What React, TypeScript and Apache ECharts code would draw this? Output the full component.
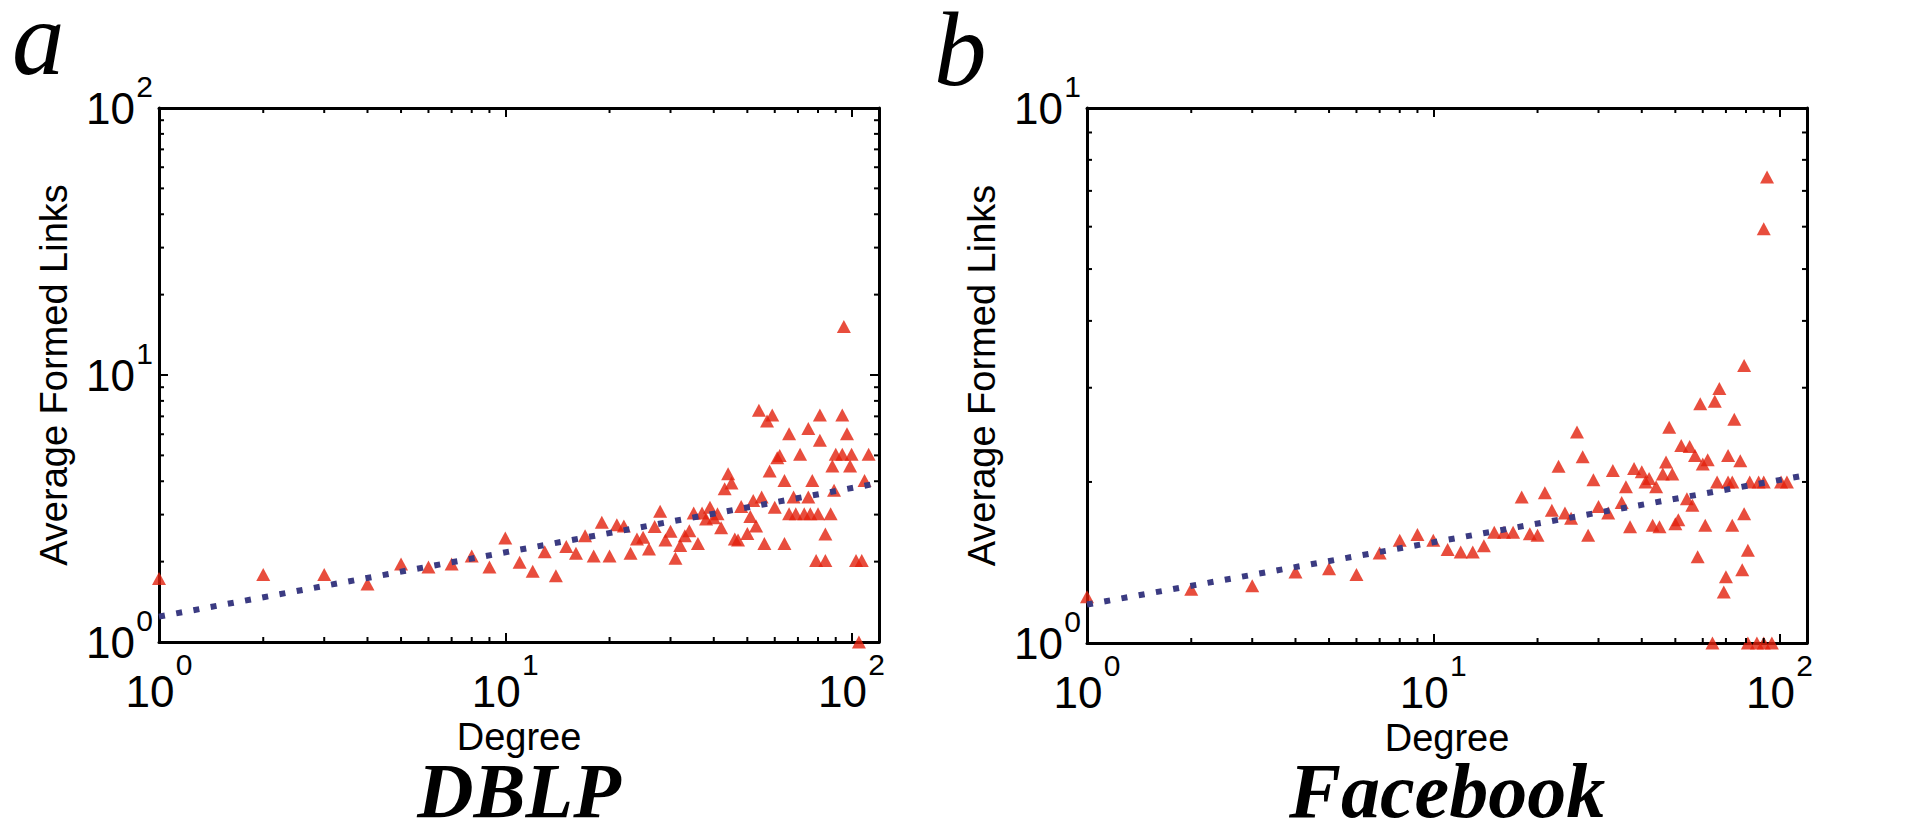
import React, { useEffect, useRef } from "react";
import * as echarts from "echarts";

// ---------- DATA ----------
const dblpDegree = [1, 2, 3, 4, 5, 6, 7, 8, 9, 10, 11, 12, 13, 14, 15, 16, 17, 18, 19, 20, 21, 22, 23, 24, 25, 26, 27, 28, 29, 30, 31, 32, 33, 34, 35, 36, 37, 38, 39, 40, 41, 42, 43, 44, 45, 46, 47, 48, 50, 51, 52, 53, 54, 55, 56, 57, 58, 59, 60, 61, 62, 64, 64, 66, 66, 69, 68, 73, 71, 75, 75, 76, 77, 80, 81, 81, 79, 84, 84, 87, 88, 89, 90, 94, 94, 95, 97, 99, 100, 103, 105, 107, 109, 112];
const dblpLinks = [1.73, 1.79, 1.79, 1.65, 1.96, 1.91, 1.96, 2.1, 1.91, 2.45, 1.99, 1.84, 2.18, 1.77, 2.28, 2.15, 2.5, 2.1, 2.81, 2.1, 2.75, 2.72, 2.15, 2.43, 2.47, 2.23, 2.71, 3.09, 2.41, 2.6, 2.06, 2.3, 2.5, 2.61, 3.04, 2.34, 3.04, 2.89, 3.2, 2.92, 3.02, 2.68, 3.75, 4.27, 3.94, 2.43, 2.41, 3.22, 2.55, 2.95, 3.39, 2.72, 7.38, 3.49, 2.34, 6.73, 4.37, 7.08, 3.2, 4.9, 5.0, 4.03, 2.34, 6.03, 3.02, 3.02, 3.49, 3.02, 5.05, 3.49, 6.3, 3.02, 4.03, 3.02, 7.08, 5.7, 2.02, 2.02, 2.54, 3.02, 4.56, 3.7, 5.05, 5.05, 7.08, 15.2, 6.03, 4.56, 5.05, 2.02, 1.0, 2.02, 4.03, 5.05];

const fbDegree = [1, 2, 3, 4, 5, 6, 7, 8, 9, 10, 11, 12, 13, 14, 15, 16, 17, 18, 19, 20, 21, 22, 23, 24, 25, 26, 27, 28, 29, 30, 32, 33, 35, 36, 37, 38, 40, 41, 42, 43, 44, 45, 46, 47, 48, 49, 50, 51, 52, 54, 55, 56, 57, 58, 59, 60, 61, 62, 64, 65, 66, 67, 69, 70, 71, 71, 73, 73, 74, 77, 78, 79, 79, 81, 81, 82, 86, 87, 90, 90, 90, 92, 95, 101, 105];
const fbLinks = [1.22, 1.26, 1.28, 1.357, 1.377, 1.343, 1.473, 1.556, 1.595, 1.556, 1.495, 1.479, 1.48, 1.52, 1.61, 1.61, 1.61, 1.875, 1.6, 1.59, 1.91, 1.77, 2.14, 1.75, 1.71, 2.48, 2.23, 1.59, 2.02, 1.8, 1.75, 2.1, 1.83, 1.96, 1.65, 2.12, 2.09, 2.0, 2.03, 1.66, 1.96, 1.65, 2.07, 2.18, 2.53, 2.07, 1.67, 1.7, 2.34, 1.86, 2.33, 1.81, 2.24, 1.45, 2.8, 2.16, 1.66, 2.2, 1.0, 2.83, 2.0, 2.99, 1.245, 1.33, 2.0, 2.24, 2.0, 1.66, 2.62, 2.19, 1.37, 3.3, 1.745, 1.49, 1.0, 2.0, 1.0, 2.0, 5.95, 2.0, 1.0, 7.43, 1.0, 2.0, 2.0];

const dblpFitDegree = [1, 120];
const dblpFitLinks = [1.245, 3.94];
const fbFitDegree = [1, 120];
const fbFitLinks = [1.18, 2.06];

const xAxisMin = 1;
const xAxisMax = 120;
const dblpYMax = 100;
const fbYMax = 10;
const minorMultipliers = [2, 3, 4, 5, 6, 7, 8, 9];
const xDecades = [1, 10];
const dblpYDecades = [1, 10];
const fbYDecades = [1];

const panelLetters = ["a", "b"];
const panelTitles = ["DBLP", "Facebook"];
const xAxisName = "Degree";
const yAxisName = "Average Formed Links";

// ---------- helpers ----------
const SANS = "'Liberation Sans', Arial, sans-serif";
const SERIF = "'Liberation Serif', 'Times New Roman', serif";

const minorValues = (decades: number[], max: number) => {
  const out: number[] = [];
  decades.forEach((d) => minorMultipliers.forEach((m) => { if (d * m < max) out.push(d * m); }));
  return out;
};

const zip = (a: number[], b: number[]) => a.map((v, i) => [v, b[i]]);

// superscript on its own (short) line above, both lines of equal width
const powLabel = (v: number) => {
  const l = Math.log10(v);
  const e = Math.round(l);
  if (Math.abs(l - e) > 1e-6) return "";
  return `{s|${e}}\n{b|10}`;
};

const yLabelRich = {
  b: { fontSize: 44, fontFamily: SANS, color: "#000", lineHeight: 44, padding: [0, 18, 10, 0] },
  s: { fontSize: 30, fontFamily: SANS, color: "#000", lineHeight: 10, padding: [0, 0, 0, 50] },
};
const xLabelRich = {
  b: { fontSize: 44, fontFamily: SANS, color: "#000", lineHeight: 44, padding: [0, 18, 0, 0] },
  s: { fontSize: 30, fontFamily: SANS, color: "#000", lineHeight: 10, padding: [0, 0, 0, 50] },
};

const mkX = (grid: number, bottom: boolean) => ({
  type: "log",
  gridIndex: grid,
  position: bottom ? "bottom" : "top",
  min: xAxisMin,
  max: xAxisMax,
  logBase: 10,
  axisLine: { show: true, onZero: false, lineStyle: { color: "#000", width: 3 } },
  axisTick: { show: true, inside: true, length: 9, lineStyle: { color: "#000", width: 2 } },
  splitLine: { show: false },
  axisLabel: bottom
    ? { show: true, formatter: powLabel, margin: 17, showMaxLabel: false, rich: xLabelRich }
    : { show: false },
  name: bottom ? xAxisName : "",
  nameLocation: "middle",
  nameGap: 42,
  nameTextStyle: { fontSize: 38, fontFamily: SANS, color: "#000", lineHeight: 38 },
});

const mkY = (grid: number, left: boolean, max: number) => ({
  type: "log",
  gridIndex: grid,
  position: left ? "left" : "right",
  min: 1,
  max,
  logBase: 10,
  axisLine: { show: true, onZero: false, lineStyle: { color: "#000", width: 3 } },
  axisTick: { show: true, inside: true, length: 9, lineStyle: { color: "#000", width: 2 } },
  splitLine: { show: false },
  axisLabel: left ? { show: true, formatter: powLabel, margin: 6, rich: yLabelRich } : { show: false },
  name: left ? yAxisName : "",
  nameLocation: "middle",
  nameGap: 86,
  nameTextStyle: { fontSize: 38, fontFamily: SANS, color: "#000", lineHeight: 38 },
});

const tickSeries = (dim: "x" | "y", values: number[], axisIdx: number) => ({
  type: "custom",
  xAxisIndex: axisIdx,
  yAxisIndex: axisIdx,
  clip: false,
  silent: true,
  z: 6,
  data: values.map((v) => (dim === "x" ? [v, 1] : [1, v])),
  renderItem: (params: any, api: any) => {
    const cs = params.coordSys;
    const pt = api.coord([api.value(0), api.value(1)]);
    const st = { stroke: "#000", lineWidth: 2 };
    const len = 5;
    if (dim === "x") {
      const x = pt[0];
      return {
        type: "group",
        children: [
          { type: "line", shape: { x1: x, y1: cs.y + cs.height, x2: x, y2: cs.y + cs.height - len }, style: st },
          { type: "line", shape: { x1: x, y1: cs.y, x2: x, y2: cs.y + len }, style: st },
        ],
      };
    }
    const y = pt[1];
    return {
      type: "group",
      children: [
        { type: "line", shape: { x1: cs.x, y1: y, x2: cs.x + len, y2: y }, style: st },
        { type: "line", shape: { x1: cs.x + cs.width, y1: y, x2: cs.x + cs.width - len, y2: y }, style: st },
      ],
    };
  },
});

const scatterSeries = (xs: number[], ys: number[], idx: number) => ({
  type: "scatter",
  xAxisIndex: idx,
  yAxisIndex: idx,
  data: zip(xs, ys),
  symbol: "triangle",
  symbolSize: [14, 13],
  clip: false,
  itemStyle: { color: "#e2200c" },
  z: 3,
});

const fitSeries = (xs: number[], ys: number[], idx: number) => ({
  type: "line",
  xAxisIndex: idx,
  yAxisIndex: idx,
  data: zip(xs, ys),
  symbol: "none",
  lineStyle: { color: "#3b3b82", width: 6, type: [6, 11.5], cap: "butt" },
  z: 4,
});

export default function App() {
  const ref = useRef<HTMLDivElement>(null);
  useEffect(() => {
    if (!ref.current) return;
    const chart = echarts.init(ref.current, null, { renderer: "svg" });
    const option: any = {
      animation: false,
      backgroundColor: "#fff",
      grid: [
        { left: 159, top: 108, width: 720, height: 534 },
        { left: 1087, top: 108, width: 720, height: 535 },
      ],
      xAxis: [mkX(0, true), mkX(0, false), mkX(1, true), mkX(1, false)],
      yAxis: [mkY(0, true, dblpYMax), mkY(0, false, dblpYMax), mkY(1, true, fbYMax), mkY(1, false, fbYMax)],
      series: [
        scatterSeries(dblpDegree, dblpLinks, 0),
        fitSeries(dblpFitDegree, dblpFitLinks, 0),
        scatterSeries(fbDegree, fbLinks, 2),
        fitSeries(fbFitDegree, fbFitLinks, 2),
        tickSeries("x", minorValues(xDecades, xAxisMax), 0),
        tickSeries("y", minorValues(dblpYDecades, dblpYMax), 0),
        tickSeries("x", minorValues(xDecades, xAxisMax), 2),
        tickSeries("y", minorValues(fbYDecades, fbYMax), 2),
        { type: "line", xAxisIndex: 1, yAxisIndex: 1, data: [], symbol: "none" },
        { type: "line", xAxisIndex: 3, yAxisIndex: 3, data: [], symbol: "none" },
      ],
      graphic: [
        { type: "text", x: 12, y: 38, style: { text: panelLetters[0], font: `italic 105px ${SERIF}`, lineHeight: 70, fill: "#000", textVerticalAlign: "middle" } },
        { type: "text", x: 934, y: 49, style: { text: panelLetters[1], font: `italic 105px ${SERIF}`, lineHeight: 70, fill: "#000", textVerticalAlign: "middle" } },
        { type: "text", x: 519, y: 790, style: { text: panelTitles[0], font: `italic bold 78px ${SERIF}`, fill: "#000", textAlign: "center", textVerticalAlign: "middle" } },
        { type: "text", x: 1447, y: 790, style: { text: panelTitles[1], font: `italic bold 78px ${SERIF}`, fill: "#000", textAlign: "center", textVerticalAlign: "middle" } },
      ],
    };
    chart.setOption(option);
    return () => chart.dispose();
  }, []);
  return <div ref={ref} style={{ position: "absolute", left: 0, top: 0, width: 1906, height: 832, background: "#fff" }} />;
}
